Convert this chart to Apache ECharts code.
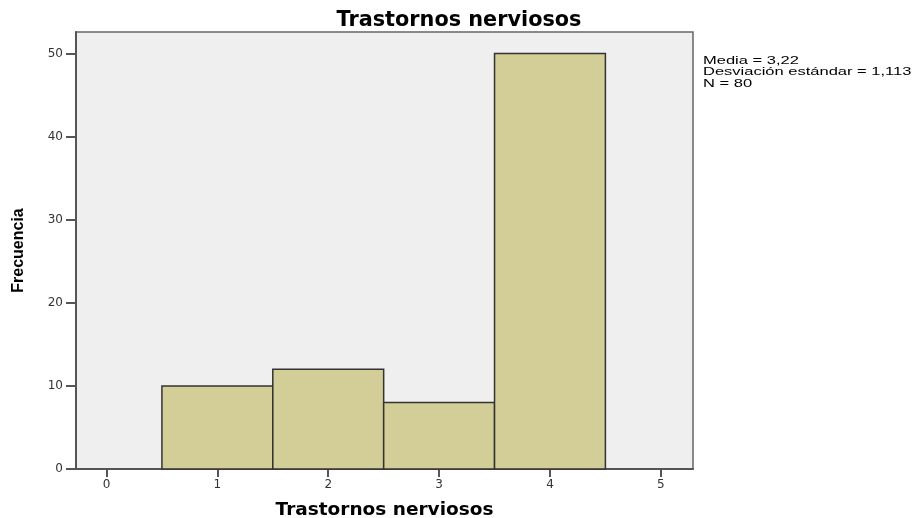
<!DOCTYPE html>
<html>
<head>
<meta charset="utf-8">
<script src="https://cdn.jsdelivr.net/npm/echarts@6/dist/echarts.min.js"></script>
<style>html,body{margin:0;padding:0;background:#fff}#c{width:918px;height:518px}</style>
</head>
<body>
<div id="c"></div>
<script>
var binStarts = [0.5, 1.5, 2.5, 3.5];
var binEnds = [1.5, 2.5, 3.5, 4.5];
var frequencies = [10, 12, 8, 50];
var xTicks = [0, 1, 2, 3, 4, 5];
var yTicks = [0, 10, 20, 30, 40, 50];
var statsLines = ['Media = 3,22', 'Desviación estándar = 1,113', 'N = 80'];

var data = frequencies.map(function (v, i) { return [binStarts[i], binEnds[i], v]; });
var chart = echarts.init(document.getElementById('c'), null, {renderer: 'canvas'});
var font = 'Liberation Sans, Arial, sans-serif';
chart.setOption({
  animation: false,
  backgroundColor: '#ffffff',
  title: {
    text: 'Trastornos nerviosos',
    left: 454, top: 5, textAlign: 'center',
    textStyle: {fontFamily: 'DejaVu Sans, sans-serif', fontSize: 20.8, fontWeight: 'bold', color: '#000'}
  },
  graphic: [{
    type: 'text', x: 703, y: 55, scaleX: 1.5,
    style: {text: statsLines.join('\n'), fontFamily: font, fontSize: 11, lineHeight: 11.5, fill: '#000'}
  }],
  grid: {
    left: 76, top: 32, right: 225, bottom: 49, show: true, outerBoundsMode: 'none',
    backgroundColor: '#efefef', borderColor: '#666', borderWidth: 1.5
  },
  xAxis: {
    type: 'value', min: -0.275, max: 5.29,
    name: 'Trastornos nerviosos', nameLocation: 'middle', nameGap: 32,
    nameTextStyle: {fontFamily: 'DejaVu Sans, sans-serif', fontSize: 18.5, fontWeight: 'bold', color: '#000'},
    axisLine: {show: true, onZero: false, lineStyle: {color: '#555', width: 2}},
    axisTick: {show: true, length: 8, lineStyle: {color: '#555', width: 2}, customValues: xTicks},
    axisLabel: {fontFamily: 'DejaVu Sans, sans-serif', fontSize: 12, color: '#333', margin: 10, customValues: xTicks},
    splitLine: {show: false}
  },
  yAxis: {
    type: 'value', min: 0, max: 52.6,
    name: 'Frecuencia', nameLocation: 'middle', nameGap: 49, nameRotate: 90,
    nameTextStyle: {fontFamily: font, fontSize: 16, fontWeight: 'bold', color: '#000'},
    axisLine: {show: true, onZero: false, lineStyle: {color: '#555', width: 2}},
    axisTick: {show: true, length: 10, lineStyle: {color: '#555', width: 2}, customValues: yTicks},
    axisLabel: {fontFamily: 'DejaVu Sans, sans-serif', fontSize: 12, color: '#333', margin: 13, customValues: yTicks},
    splitLine: {show: false}
  },
  series: [{
    type: 'custom',
    data: data,
    encode: {x: [0, 1], y: 2},
    renderItem: function (params, api) {
      var p0 = api.coord([api.value(0), api.value(2)]);
      var p1 = api.coord([api.value(1), 0]);
      return {
        type: 'rect',
        shape: {x: p0[0], y: p0[1], width: p1[0] - p0[0], height: p1[1] - p0[1]},
        style: {fill: '#d3ce98', stroke: '#333', lineWidth: 1.5}
      };
    }
  }]
});
</script>
</body>
</html>
